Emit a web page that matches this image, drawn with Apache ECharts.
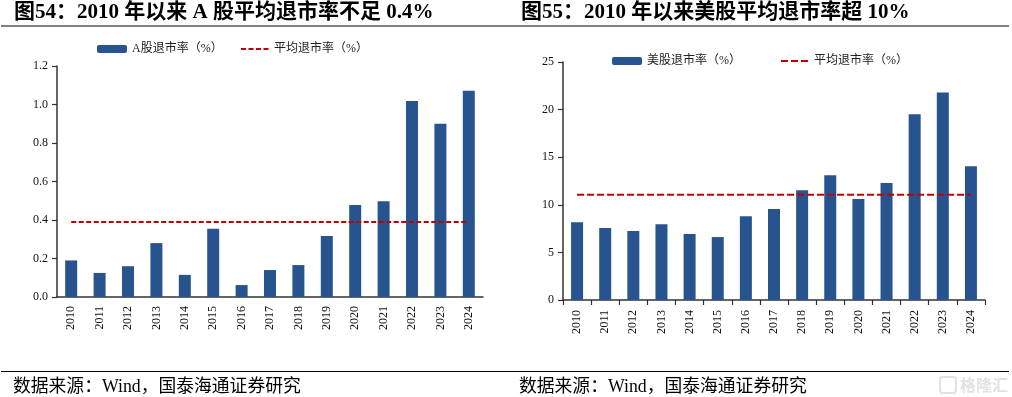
<!DOCTYPE html>
<html>
<head>
<meta charset="utf-8">
<script src="https://cdn.jsdelivr.net/npm/echarts@6/dist/echarts.min.js"></script>
<style>html,body{margin:0;padding:0;background:#fff;}#c{width:1012px;height:397px;}</style>
</head>
<body>
<div id="c"></div>
<script>
var years = ['2010','2011','2012','2013','2014','2015','2016','2017','2018','2019','2020','2021','2022','2023','2024'];
var aShareRate = [0.19,0.125,0.16,0.28,0.115,0.355,0.062,0.14,0.166,0.317,0.478,0.497,1.018,0.90,1.072];
var aShareAvg = [0.39,0.39,0.39,0.39,0.39,0.39,0.39,0.39,0.39,0.39,0.39,0.39,0.39,0.39,0.39];
var usRate = [8.18,7.55,7.24,7.97,6.92,6.61,8.81,9.55,11.54,13.1,10.6,12.28,19.5,21.8,14.06];
var usAvg = [11.05,11.05,11.05,11.05,11.05,11.05,11.05,11.05,11.05,11.05,11.05,11.05,11.05,11.05,11.05];
var titleLeft = '图54：2010 年以来 A 股平均退市率不足 0.4%';
var titleRight = '图55：2010 年以来美股平均退市率超 10%';
var sourceText = '数据来源：Wind，国泰海通证券研究';

var serif = "'Liberation Serif','DejaVu Serif','Noto Sans CJK SC',serif";
var blue = '#27548E';
var red = '#C00000';
var axisColor = '#333';

var chart = echarts.init(document.getElementById('c'), null, {renderer:'canvas'});
var labelStyle = {color:'#111', fontFamily: serif, fontSize: 12};
function legend(name, left, top, isLine){
  var l = {data:[name], left:left, top:top, itemWidth:isLine ? 28 : 30, itemHeight:8, itemGap:0,
    textStyle:{color:'#222', fontFamily: serif, fontSize: 12}, padding:0};
  if (isLine) { l.itemStyle = {color:'rgba(0,0,0,0)', borderColor:'rgba(0,0,0,0)', borderWidth:0}; }
  return l;
}
chart.setOption({
  animation:false,
  title:[
    {text:titleLeft, left:14, top:2, padding:0, textStyle:{fontFamily:serif, fontWeight:'bold', fontSize:21, color:'#000'}},
    {text:titleRight, left:521, top:2, padding:0, textStyle:{fontFamily:serif, fontWeight:'bold', fontSize:21, color:'#000'}},
    {text:sourceText, left:13, top:378, padding:0, textStyle:{fontFamily:serif, fontWeight:'normal', fontSize:17.8, color:'#000'}},
    {text:sourceText, left:519, top:378, padding:0, textStyle:{fontFamily:serif, fontWeight:'normal', fontSize:17.8, color:'#000'}},
    {text:'格隆汇', left:960, top:377, padding:0, textStyle:{fontFamily:"'Noto Sans CJK SC'", fontWeight:'bold', fontSize:16, color:'#e2e2e2'}}
  ],
  graphic:[
    {type:'line', shape:{x1:1, y1:26, x2:1009, y2:26}, style:{stroke:'#000', lineWidth:1.2}},
    {type:'line', shape:{x1:1, y1:371.5, x2:1009, y2:371.5}, style:{stroke:'#000', lineWidth:1.2}},
    {type:'rect', shape:{x:940, y:377, width:16, height:16, r:3}, style:{fill:'none', stroke:'#e2e2e2', lineWidth:2}}
  ],
  legend:[
    legend('A股退市率（%）', 97, 43, false),
    legend('平均退市率（%）', 240, 43, true),
    legend('美股退市率（%）', 612, 55, false),
    legend('平均退市率（%） ', 780, 55, true)
  ],
  grid:[
    {left:57, top:66, width:426, height:231},
    {left:563, top:62, width:422, height:238}
  ],
  xAxis:[
    {type:'category', gridIndex:0, data:years, boundaryGap:true,
      axisLine:{lineStyle:{color:axisColor, width:1.5}}, axisTick:{show:false},
      axisLabel:Object.assign({rotate:90, margin:9, interval:0}, labelStyle)},
    {type:'category', gridIndex:1, data:years, boundaryGap:true,
      axisLine:{lineStyle:{color:axisColor, width:1.5}}, axisTick:{show:true, length:5, lineStyle:{color:axisColor, width:1.2}},
      axisLabel:Object.assign({rotate:90, margin:10, interval:0}, labelStyle)}
  ],
  yAxis:[
    {type:'value', gridIndex:0, min:0, max:1.2, interval:0.2,
      axisLine:{show:true, lineStyle:{color:axisColor, width:1.5}}, axisTick:{show:true, length:5, lineStyle:{color:axisColor, width:1.2}},
      splitLine:{show:false},
      axisLabel:Object.assign({margin:9, formatter:function(v){return v.toFixed(1);}}, labelStyle)},
    {type:'value', gridIndex:1, min:0, max:25, interval:5,
      axisLine:{show:true, lineStyle:{color:axisColor, width:1.5}}, axisTick:{show:true, length:5, lineStyle:{color:axisColor, width:1.2}},
      splitLine:{show:false},
      axisLabel:Object.assign({margin:9}, labelStyle)}
  ],
  series:[
    {name:'A股退市率（%）', type:'bar', xAxisIndex:0, yAxisIndex:0, data:aShareRate, barWidth:12, itemStyle:{color:blue}},
    {name:'平均退市率（%）', type:'line', xAxisIndex:0, yAxisIndex:0, data:aShareAvg, symbol:'none',
      lineStyle:{color:red, width:2, type:[5,2.5]}, itemStyle:{color:red}},
    {name:'美股退市率（%）', type:'bar', xAxisIndex:1, yAxisIndex:1, data:usRate, barWidth:12, itemStyle:{color:blue}},
    {name:'平均退市率（%） ', type:'line', xAxisIndex:1, yAxisIndex:1, data:usAvg, symbol:'none',
      lineStyle:{color:red, width:2, type:[7,3]}, itemStyle:{color:red}}
  ]
});
</script>
</body>
</html>
